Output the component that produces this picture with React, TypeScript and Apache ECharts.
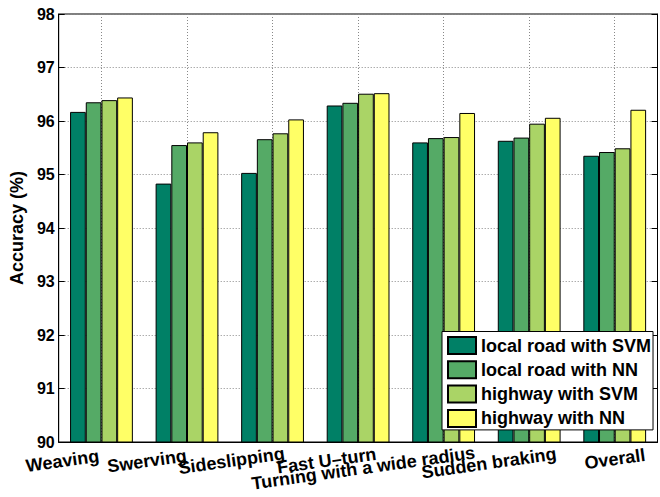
import React, { useEffect, useRef } from "react";
import * as echarts from "echarts";

// Driving maneuvers and per-maneuver classification accuracy (%)
const categories = [
  "Weaving",
  "Swerving",
  "Sideslipping",
  "Fast U–turn",
  "Turning with a wide radius",
  "Sudden braking",
  "Overall",
];
const seriesNames = [
  "local road with SVM",
  "local road with NN",
  "highway with SVM",
  "highway with NN",
];
const localRoadSvm = [96.17, 94.83, 95.03, 96.29, 95.6, 95.63, 95.35];
const localRoadNn = [96.35, 95.55, 95.66, 96.34, 95.68, 95.69, 95.42];
const highwaySvm = [96.39, 95.6, 95.77, 96.51, 95.7, 95.95, 95.49];
const highwayNn = [96.44, 95.79, 96.03, 96.52, 96.15, 96.06, 96.21];
const yMin = 90;
const yMax = 98;
const yStep = 1;

// MATLAB "summer" colormap, four steps
const palette = ["#008066", "#55aa66", "#aad466", "#ffff66"];

const FONT = "'Liberation Sans', Arial, Helvetica, sans-serif";

// per-label [right padding, top padding] for the staggered rotated tick labels
const labelShift: [number, number][] = [
  [80, 8.8],
  [82, 8.8],
  [84, 7.9],
  [65, 10.5],
  [164, 11.4],
  [83, 12.6],
  [2, 16],
];

export default function App() {
  const ref = useRef<HTMLDivElement>(null);

  useEffect(() => {
    if (!ref.current) return;
    const chart = echarts.init(ref.current, undefined, { renderer: "svg" });

    const rich: Record<string, any> = {};
    labelShift.forEach(([pr, pt], i) => {
      rich["l" + i] = {
        fontSize: 18,
        fontWeight: "bold",
        fontFamily: FONT,
        color: "#000",
        padding: [pt, pr, 0, 0],
      };
    });

    const values = [localRoadSvm, localRoadNn, highwaySvm, highwayNn];

    chart.setOption({
      animation: false,
      backgroundColor: "#fff",
      grid: {
        left: 55.5,
        right: 2.5,
        top: 14,
        bottom: 55,
        show: true,
        borderColor: "#000",
        borderWidth: 1,
        backgroundColor: "transparent",
      },
      legend: {
        orient: "vertical",
        left: 442,
        top: 331.5,
        padding: [4.5, 2, 2, 5],
        backgroundColor: "#fff",
        borderColor: "#000",
        borderWidth: 1,
        borderRadius: 0,
        itemWidth: 28,
        itemHeight: 17,
        itemGap: 5.3,
        icon: "rect",
        data: seriesNames,
        textStyle: {
          fontSize: 18,
          fontWeight: "bold",
          fontFamily: FONT,
          color: "#000",
        },
      },
      xAxis: {
        type: "category",
        data: categories,
        axisLine: { show: true, lineStyle: { color: "#000", width: 1 } },
        axisTick: { show: false, alignWithLabel: true },
        splitLine: {
          show: true,
          alignWithLabel: true,
          lineStyle: { color: "#888", width: 1, type: [1, 2] },
        },
        axisLabel: {
          interval: 0,
          rotate: 8,
          margin: 9,
          align: "center",
          verticalAlign: "middle",
          formatter: (v: string, i: number) => `{l${i}|${v}}`,
          rich,
        },
      },
      yAxis: [
        {
          type: "value",
          min: yMin,
          max: yMax,
          interval: yStep,
          name: "Accuracy (%)",
          nameLocation: "middle",
          nameGap: 28,
          nameTextStyle: {
            fontSize: 18,
            fontWeight: "bold",
            fontFamily: FONT,
            color: "#000",
          },
          axisLine: { show: true, lineStyle: { color: "#000", width: 1 } },
          axisTick: {
            show: true,
            inside: true,
            length: 6,
            lineStyle: { color: "#000" },
          },
          axisLabel: {
            margin: 4,
            fontSize: 16,
            fontWeight: "bold",
            fontFamily: FONT,
            color: "#000",
          },
          splitLine: {
            show: true,
            lineStyle: { color: "#888", width: 1, type: [1, 2] },
          },
        },
        {
          type: "value",
          position: "right",
          min: yMin,
          max: yMax,
          interval: yStep,
          axisLine: { show: true, lineStyle: { color: "#000", width: 1 } },
          axisTick: {
            show: true,
            inside: true,
            length: 6,
            lineStyle: { color: "#000" },
          },
          axisLabel: { show: false },
          splitLine: { show: false },
        },
      ],
      series: seriesNames.map((name, k) => ({
        name,
        type: "bar",
        yAxisIndex: 0,
        data: values[k],
        barGap: "0%",
        barCategoryGap: "26.6%",
        itemStyle: {
          color: palette[k],
          borderColor: "#000",
          borderWidth: 1,
        },
      })),
    });

    return () => chart.dispose();
  }, []);

  return (
    <div
      ref={ref}
      style={{ position: "fixed", left: 0, top: 0, width: 660, height: 497 }}
    />
  );
}
